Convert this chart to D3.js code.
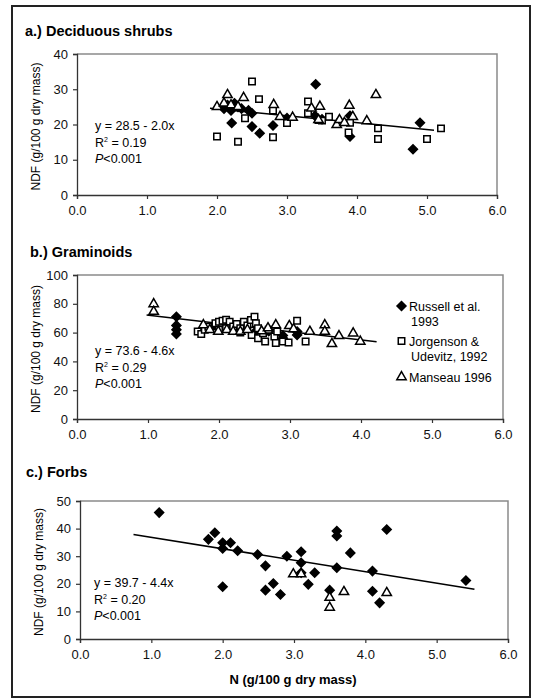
<!DOCTYPE html>
<html>
<head>
<meta charset="utf-8">
<script src="https://cdn.jsdelivr.net/npm/d3@7"></script>
<style>
  body { margin: 0; background: #fff; }
  svg { display: block; font-family: "Liberation Sans", Arial, sans-serif; }
</style>
</head>
<body>
<svg id="chart" width="536" height="700"></svg>
<script>
// ---- data ----
const xTicks = [0, 1, 2, 3, 4, 5, 6];
const shrubYTicks = [0, 10, 20, 30, 40];
const gramYTicks = [0, 20, 40, 60, 80, 100];
const forbYTicks = [0, 10, 20, 30, 40, 50];

const seriesNames = ["Russell et al. 1993", "Jorgenson & Udevitz, 1992", "Manseau 1996"];

// a.) Deciduous shrubs
const shrubRussell = [[2.1,24.5],[2.15,25.5],[2.2,24],[2.25,26],[2.3,25],[2.35,24.5],[2.45,24],[2.21,20.4],
  [2.5,23.2],[2.5,19.4],[2.61,17.5],[2.8,19.7],[3.0,21.8],[3.41,31.4],[3.4,22.5],[3.5,21.5],[3.9,16.6],
  [3.9,22.5],[4.8,13],[4.9,20.5]];
const shrubJorgenson = [[2.0,16.6],[2.3,15.1],[2.4,21.8],[2.5,32.2],[2.6,27.2],[2.8,24],[2.8,16.4],[3.0,20.4],
  [3.3,26.5],[3.3,23.2],[3.45,21.3],[3.5,21.1],[3.6,22.2],[3.88,17.7],[3.9,20.5],[4.3,18.9],[4.3,15.9],
  [5.0,15.9],[5.2,18.9]];
const shrubManseau = [[2.0,25],[2.1,26],[2.15,28.4],[2.2,25.5],[2.3,25],[2.38,27.6],[2.81,25.6],[2.9,22.2],
  [3.08,22],[3.35,24.6],[3.47,25.1],[3.45,21.3],[3.71,19.9],[3.75,21.3],[3.82,20.5],[3.89,25.4],[3.94,22.2],
  [4.14,21],[4.27,28.4]];
const shrubFit = [[1.9, 24.6], [5.1, 18.4]];
const shrubStats = ["y = 28.5 - 2.0x", "0.19", "<0.001"];

// b.) Graminoids
const gramRussell = [[1.4,71],[1.4,65],[1.4,62],[1.4,59],[1.9,63.5],[2.2,62],[2.5,60],[2.7,61],[2.9,58],
  [2.9,56],[3.1,60.7],[3.1,58.4]];
const gramJorgenson = [[1.7,60.7],[1.75,59],[1.8,62],[1.85,64],[1.95,66.5],[2.0,67.6],[2.05,68.3],[2.1,69],
  [2.15,67.6],[2.2,64.2],[2.25,66],[2.3,63],[2.35,67.6],[2.4,65],[2.45,68.8],[2.5,71.1],[2.52,66.5],[2.55,63],
  [2.46,58.4],[2.55,56.1],[2.62,59.6],[2.65,53.8],[2.7,62],[2.78,57.3],[2.8,52.7],[2.82,60.7],[2.9,53.8],
  [2.98,53.1],[3.1,68.3],[3.22,53.8],[2.0,62],[2.1,63],[2.3,60]];
const gramManseau = [[1.08,79.9],[1.08,74.6],[1.78,65.3],[1.87,61.9],[1.99,60.7],[2.11,61.9],[2.2,60.7],
  [2.3,60.7],[2.4,62],[2.6,61],[2.69,63.1],[2.8,65.3],[2.99,64.7],[3.05,62.4],[3.28,60.7],[3.49,65.3],
  [3.49,60.7],[3.59,52.2],[3.69,57.7],[3.89,59.6],[3.99,53.8]];
const gramFit = [[0.98, 72.3], [4.22, 53.6]];
const gramStats = ["y = 73.6 - 4.6x", "0.29", "<0.001"];

// c.) Forbs
const forbRussell = [[1.11,45.8],[1.8,36.1],[1.89,38.5],[2.0,34.9],[2.0,32.8],[2.11,34.9],[2.21,32],[2.49,30.6],
  [2.6,26.5],[2.0,18.9],[2.6,17.7],[2.71,20.1],[2.81,16.1],[2.9,30],[3.1,31.6],[3.1,27.6],[3.1,24],[3.2,19.8],
  [3.29,24],[3.5,17.7],[3.6,39.1],[3.6,37.3],[3.6,25.8],[3.79,31.2],[4.1,24.6],[4.1,17.3],[4.2,13.1],
  [4.3,39.7],[5.41,21.2]];
const forbManseau = [[2.99,23.5],[3.1,23.5],[3.5,15],[3.5,11.4],[3.7,17.1],[4.3,16.7]];
const forbFit = [[0.75, 37.9], [5.53, 18.0]];
const forbStats = ["y = 39.7 - 4.4x", "0.20", "<0.001"];

// ---- layout ----
const svg = d3.select('#chart');
svg.append('rect').attr('width', 536).attr('height', 700).attr('fill', '#fff');
svg.append('rect')
  .attr('x', 12).attr('y', 6).attr('width', 518).attr('height', 691)
  .attr('fill', 'none').attr('stroke', '#222').attr('stroke-width', 2);

const diamond = d3.symbol(d3.symbolSquare, 40)();
const square = d3.symbol(d3.symbolSquare, 42)();
const triangle = d3.symbol(d3.symbolTriangle, 38)();

function drawPanel(p) {
  const x = d3.scaleLinear().domain([0, 6]).range([p.left, p.right]);
  const y = d3.scaleLinear().domain([0, d3.max(p.yTicks)]).range([p.bottom, p.top]);
  const g = svg.append('g');

  // title
  g.append('text').text(p.title)
    .attr('x', p.titleX).attr('y', p.titleY)
    .attr('font-size', '14.5px').attr('font-weight', 'bold');

  // gray plot frame (top and right)
  g.append('path')
    .attr('d', `M${p.left},${p.top}H${p.right}V${p.bottom}`)
    .attr('fill', 'none').attr('stroke', '#8a8a8a').attr('stroke-width', 1.5);

  // axes
  const xAxis = g.append('g')
    .attr('transform', `translate(0,${p.bottom})`)
    .call(d3.axisBottom(x).tickValues(xTicks).tickFormat(d3.format('.1f')).tickSizeOuter(0).tickSize(4).tickPadding(7));
  const yAxis = g.append('g')
    .attr('transform', `translate(${p.left},0)`)
    .call(d3.axisLeft(y).tickValues(p.yTicks).tickSizeOuter(0).tickSize(4).tickPadding(5));
  [xAxis, yAxis].forEach((a) => {
    a.select('.domain').attr('stroke', '#333').attr('stroke-width', 1.3);
    a.selectAll('.tick line').attr('stroke', '#333').attr('stroke-width', 1.2);
    a.selectAll('.tick text').attr('font-size', '13px').attr('fill', '#111')
      .attr('font-family', '"Liberation Sans", Arial, sans-serif');
  });

  // y axis title
  g.append('text').text('NDF (g/100 g dry mass)')
    .attr('transform', `translate(${p.yLabelX},${(p.top + p.bottom) / 2 + 2}) rotate(-90)`)
    .attr('text-anchor', 'middle').attr('font-size', '12px');

  // regression line
  g.append('path')
    .attr('d', d3.line().x((d) => x(d[0])).y((d) => y(d[1]))(p.fit))
    .attr('stroke', '#000').attr('stroke-width', 1.5).attr('fill', 'none');

  // points
  const marks = [
    { data: p.russell, path: diamond, rot: 45, fill: '#000' },
    { data: p.jorgenson, path: square, rot: 0, fill: '#fff' },
    { data: p.manseau, path: triangle, rot: 0, fill: '#fff' }
  ];
  marks.forEach((m) => {
    if (!m.data) return;
    g.append('g').selectAll('path')
      .data(m.data)
      .join('path')
      .attr('d', m.path)
      .attr('transform', (d) => `translate(${x(d[0])},${y(d[1])}) rotate(${m.rot})`)
      .attr('fill', m.fill)
      .attr('stroke', '#000')
      .attr('stroke-width', 1.5);
  });

  // stats text
  const st = g.append('text').attr('font-size', '12.5px').attr('x', p.statsX);
  g.append('text').text(p.stats[0]).attr('x', p.statsX).attr('y', p.statsY).attr('font-size', '12.5px');
  const r2 = g.append('text').attr('x', p.statsX).attr('y', p.statsY + 16.5).attr('font-size', '12.5px');
  r2.append('tspan').text('R');
  r2.append('tspan').text('2').attr('font-size', '7px').attr('dy', -5);
  r2.append('tspan').text(' = ' + p.stats[1]).attr('dy', 5);
  const pv = g.append('text').attr('x', p.statsX).attr('y', p.statsY + 33).attr('font-size', '12.5px');
  pv.append('tspan').text('P').attr('font-style', 'italic');
  pv.append('tspan').text(p.stats[2]);
  st.remove();
  return { x, y, g };
}

drawPanel({
  title: 'a.) Deciduous shrubs', titleX: 25, titleY: 36,
  left: 77, right: 497, top: 54, bottom: 195, yLabelX: 40,
  yTicks: shrubYTicks, fit: shrubFit, stats: shrubStats, statsX: 95, statsY: 130,
  russell: shrubRussell, jorgenson: shrubJorgenson, manseau: shrubManseau
});

const pb = drawPanel({
  title: 'b.) Graminoids', titleX: 30, titleY: 257,
  left: 77, right: 503, top: 275, bottom: 419, yLabelX: 40,
  yTicks: gramYTicks, fit: gramFit, stats: gramStats, statsX: 95, statsY: 355,
  russell: gramRussell, jorgenson: gramJorgenson, manseau: gramManseau
});

drawPanel({
  title: 'c.) Forbs', titleX: 26, titleY: 477,
  left: 80, right: 508, top: 501, bottom: 639, yLabelX: 43,
  yTicks: forbYTicks, fit: forbFit, stats: forbStats, statsX: 94, statsY: 587,
  russell: forbRussell, jorgenson: null, manseau: forbManseau
});

// legend in panel b
const legendLines = [
  [seriesNames[0].replace(' 1993', ''), '1993'],
  [seriesNames[1].replace(' Udevitz, 1992', ''), 'Udevitz, 1992'],
  [seriesNames[2]]
];
const legendSymbols = [
  { path: diamond, rot: 45, fill: '#000' },
  { path: square, rot: 0, fill: '#fff' },
  { path: triangle, rot: 0, fill: '#fff' }
];
const legendY = [306, 341, 377];
const legend = pb.g.append('g');
legendLines.forEach((lines, i) => {
  legend.append('path')
    .attr('d', legendSymbols[i].path)
    .attr('transform', `translate(401.5,${legendY[i]}) rotate(${legendSymbols[i].rot})`)
    .attr('fill', legendSymbols[i].fill).attr('stroke', '#000').attr('stroke-width', 1.5);
  lines.forEach((t, j) => {
    legend.append('text').text(t)
      .attr('x', j === 0 ? 409 : 411).attr('y', legendY[i] + 4.5 + j * 15)
      .attr('font-size', '12.5px');
  });
});

// x axis title
svg.append('text').text('N (g/100 g dry mass)')
  .attr('x', 293).attr('y', 684)
  .attr('text-anchor', 'middle').attr('font-size', '13px').attr('font-weight', 'bold');
</script>
</body>
</html>
